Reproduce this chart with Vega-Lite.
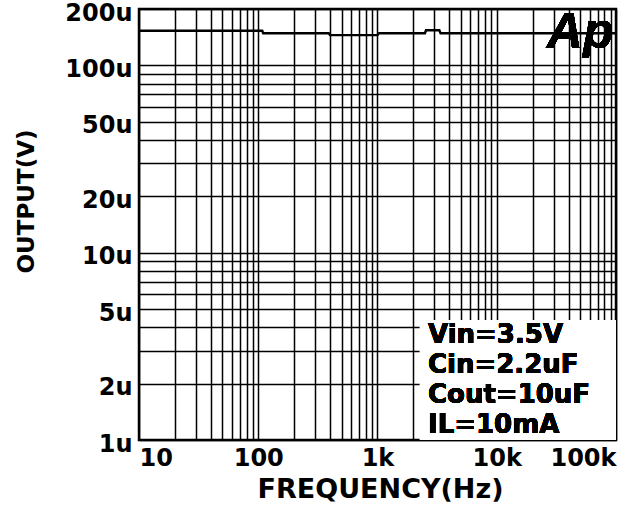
{
  "$schema": "https://vega.github.io/schema/vega-lite/v6.json",
  "autosize": "none",
  "width": 477,
  "height": 431,
  "padding": {"left": 139, "top": 9, "right": 18, "bottom": 66},
  "background": "white",
  "config": {
    "view": {"stroke": "black", "strokeWidth": 2.5},
    "font": "DejaVu Sans",
    "axis": {
      "grid": true,
      "gridColor": "black",
      "gridOpacity": 1,
      "gridWidth": 1.5,
      "ticks": false,
      "domain": false,
      "labelFont": "DejaVu Sans",
      "labelFontWeight": "bold",
      "labelColor": "black",
      "labelFontSize": 24,
      "labelOverlap": false,
      "titleFont": "DejaVu Sans",
      "titleFontWeight": "bold",
      "titleColor": "black"
    }
  },
  "data": {
    "values": [
      {"f": 10, "v": 0.000153},
      {"f": 108, "v": 0.000153},
      {"f": 110, "v": 0.0001485},
      {"f": 390, "v": 0.0001485},
      {"f": 400, "v": 0.000145},
      {"f": 1000, "v": 0.000145},
      {"f": 1030, "v": 0.0001485},
      {"f": 2500, "v": 0.0001485},
      {"f": 2550, "v": 0.000154},
      {"f": 3300, "v": 0.000154},
      {"f": 3380, "v": 0.0001485},
      {"f": 100000, "v": 0.0001485}
    ]
  },
  "layer": [
    {
      "mark": {"type": "rect", "fill": "white", "stroke": null},
      "encoding": {
        "x": {"datum": 2270, "type": "quantitative"},
        "x2": {"datum": 100000},
        "y": {"datum": 0.000001, "type": "quantitative"},
        "y2": {"datum": 0.00000437}
      }
    },
    {
      "mark": {"type": "line", "color": "black", "strokeWidth": 2.4, "interpolate": "linear"},
      "encoding": {
        "x": {
          "field": "f",
          "type": "quantitative",
          "scale": {"type": "log", "domain": [10, 100000], "nice": false},
          "axis": {
            "title": "FREQUENCY(Hz)",
            "values": [10, 20, 30, 40, 50, 60, 70, 80, 90, 100, 200, 300, 400, 500, 600, 700, 800, 900, 1000, 2000, 3000, 4000, 5000, 6000, 7000, 8000, 9000, 10000, 20000, 30000, 40000, 50000, 60000, 70000, 80000, 90000, 100000],
            "labelExpr": "datum.value == 10 ? '10' : datum.value == 100 ? '100' : datum.value == 1000 ? '1k' : datum.value == 10000 ? '10k' : datum.value == 100000 ? '100k' : ''",
            "labelFlush": true,
            "labelBaseline": "alphabetic",
            "labelPadding": 25,
            "titleFontSize": 27,
            "titleX": 241,
            "titleY": 57,
            "titleBaseline": "alphabetic"
          }
        },
        "y": {
          "field": "v",
          "type": "quantitative",
          "scale": {"type": "log", "domain": [0.000001, 0.0002], "nice": false},
          "axis": {
            "title": "OUTPUT(V)",
            "values": [0.000001, 0.000002, 0.000003, 0.000004, 0.000005, 0.000006, 0.000007, 0.000008, 0.000009, 0.00001, 0.00002, 0.00003, 0.00004, 0.00005, 0.00006, 0.00007, 0.00008, 0.00009, 0.0001, 0.0002],
            "labelExpr": "indexof([1, 2, 5, 10, 20, 50, 100, 200], round(datum.value * 1000000)) >= 0 ? round(datum.value * 1000000) + 'u' : ''",
            "labelPadding": 7,
            "labelOffset": 4,
            "labelFlush": false,
            "titleFontSize": 23,
            "titleAngle": -90,
            "titleX": -106,
            "titleY": 192,
            "titleBaseline": "alphabetic"
          }
        }
      }
    },
    {
      "mark": {
        "type": "text",
        "text": ["Vin=3.5V", "Cin=2.2uF", "Cout=10uF", "IL=10mA"],
        "font": "DejaVu Sans",
        "fontWeight": "bold",
        "fontSize": 26,
        "lineHeight": 30,
        "align": "left",
        "baseline": "alphabetic",
        "color": "black"
      },
      "encoding": {
        "x": {"datum": 2650, "type": "quantitative"},
        "y": {"datum": 0.0000033, "type": "quantitative"}
      }
    },
    {
      "mark": {
        "type": "text",
        "text": "Ap",
        "font": "Liberation Sans",
        "fontWeight": "bold",
        "fontStyle": "italic",
        "fontSize": 50,
        "align": "left",
        "baseline": "alphabetic",
        "color": "black"
      },
      "encoding": {
        "x": {"datum": 26300, "type": "quantitative"},
        "y": {"datum": 0.000124, "type": "quantitative"}
      }
    }
  ]
}
